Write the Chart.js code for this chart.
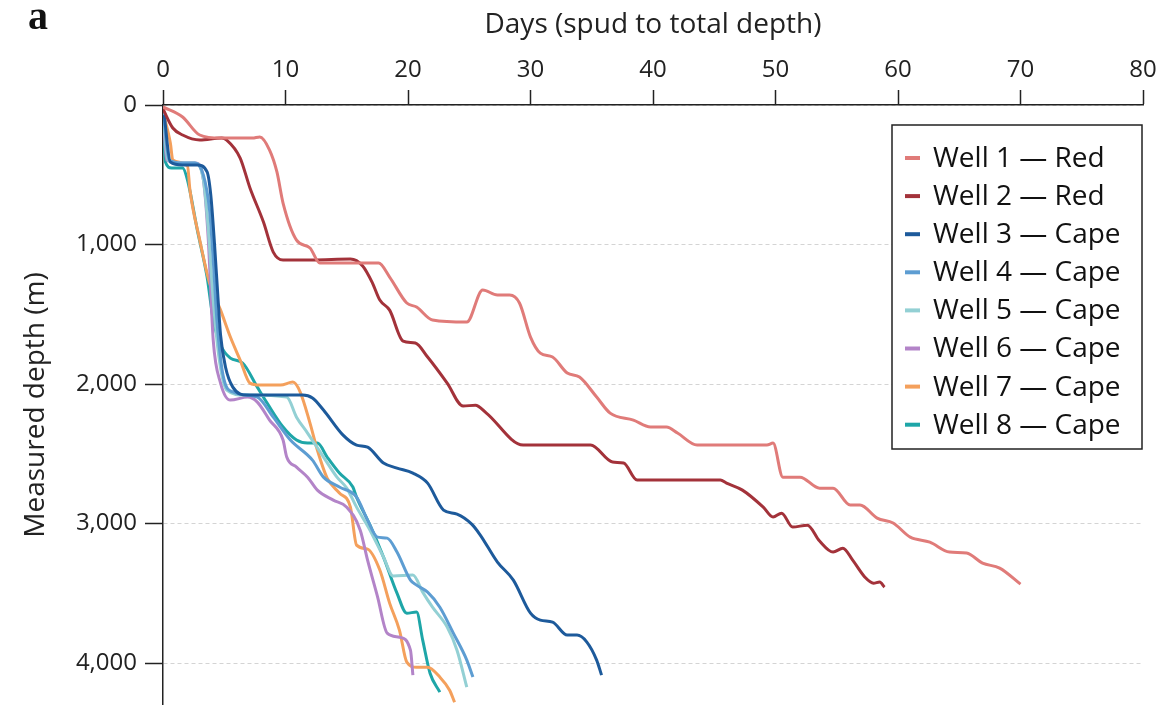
<!DOCTYPE html>
<html>
<head>
<meta charset="utf-8">
<title>Measured depth vs days</title>
<script src="https://cdn.jsdelivr.net/npm/chart.js@4.4.1/dist/chart.umd.min.js"></script>
<style>
  html, body { margin: 0; padding: 0; background: #fff; }
  #wrap { position: relative; width: 1165px; height: 705px; }
</style>
</head>
<body>
<div id="wrap"><canvas id="depthChart"></canvas></div>
<script>
// === Data (days since spud, measured depth in m) ===
const dayTicks = [0, 10, 20, 30, 40, 50, 60, 70, 80];
const depthTicks = [0, 1000, 2000, 3000, 4000];

const wellNames = ['Well 1 \u2014 Red', 'Well 2 \u2014 Red', 'Well 3 \u2014 Cape', 'Well 4 \u2014 Cape',
  'Well 5 \u2014 Cape', 'Well 6 \u2014 Cape', 'Well 7 \u2014 Cape', 'Well 8 \u2014 Cape'];
const wellColors = ['#e07b79', '#a3323a', '#1d5a9b', '#5d9dd2', '#93d0d4', '#b384c8', '#f4a05c', '#1ea6a8'];

const well1Days = [0, 1.6, 3.0, 4.7, 7.3, 7.9, 8.7, 9.3, 9.8, 10.9, 12.0, 12.8, 15.3, 17.6, 18.5, 19.9, 20.7, 22.0, 24.8, 26.1, 27.3, 28.3, 29.1, 30.0, 30.8, 31.8, 33.0, 34.0, 35.4, 36.5, 38.4, 39.8, 41.1, 42.0, 43.6, 49.3, 49.8, 50.6, 52.0, 53.6, 54.7, 56.1, 56.9, 58.3, 59.6, 61.0, 62.6, 64.2, 65.6, 66.9, 68.3, 70.0];
const well1Depth = [14, 86, 215, 237, 237, 229, 323, 480, 703, 968, 1025, 1133, 1133, 1133, 1233, 1419, 1448, 1541, 1556, 1326, 1362, 1362, 1419, 1663, 1778, 1806, 1921, 1950, 2093, 2208, 2258, 2308, 2308, 2351, 2437, 2437, 2423, 2667, 2667, 2746, 2746, 2867, 2867, 2961, 2996, 3097, 3133, 3204, 3211, 3283, 3319, 3434];

const well2Days = [0, 0.8, 1.6, 3.0, 4.8, 5.2, 6.3, 7.1, 8.2, 9.0, 9.8, 12.2, 15.3, 16.3, 17.1, 17.7, 18.5, 19.6, 20.6, 21.6, 23.2, 24.5, 25.5, 26.4, 29.4, 34.9, 36.7, 37.6, 38.7, 45.5, 46.0, 47.3, 49.0, 49.8, 50.5, 51.4, 52.6, 53.6, 54.7, 55.5, 56.3, 57.3, 58.0, 58.5, 58.9];
const well2Depth = [29, 165, 215, 251, 237, 251, 380, 595, 839, 1054, 1111, 1111, 1104, 1154, 1276, 1398, 1470, 1692, 1706, 1806, 1993, 2158, 2151, 2208, 2437, 2437, 2559, 2566, 2688, 2688, 2710, 2760, 2882, 2953, 2925, 3025, 3011, 3125, 3204, 3176, 3262, 3384, 3427, 3419, 3455];

const well3Days = [0.1, 0.6, 1.6, 2.8, 3.6, 3.9, 4.2, 4.5, 4.7, 5.1, 5.7, 6.9, 11.4, 12.2, 13.1, 14.7, 15.8, 16.7, 18.0, 19.1, 20.4, 21.6, 22.9, 24.0, 25.2, 25.9, 27.3, 28.6, 30.0, 30.8, 31.8, 33.0, 33.8, 34.6, 35.4, 35.8];
const well3Depth = [72, 409, 430, 430, 480, 645, 989, 1398, 1649, 1878, 2022, 2079, 2079, 2100, 2186, 2366, 2437, 2452, 2566, 2602, 2638, 2710, 2903, 2932, 3004, 3082, 3276, 3405, 3642, 3692, 3706, 3799, 3799, 3849, 3978, 4086];

const well4Days = [0, 0.5, 1.6, 2.6, 3.3, 3.8, 4.1, 4.4, 4.9, 5.7, 7.7, 9.0, 10.4, 12.2, 13.1, 14.4, 15.8, 16.7, 17.5, 18.3, 19.1, 20.2, 20.7, 21.6, 22.6, 23.7, 24.8, 25.3];
const well4Depth = [36, 394, 416, 416, 502, 753, 1111, 1541, 1935, 2057, 2093, 2237, 2401, 2545, 2667, 2738, 2810, 2975, 3097, 3104, 3204, 3405, 3441, 3491, 3599, 3785, 3978, 4100];

const well5Days = [0, 0.4, 1.6, 2.6, 3.3, 3.7, 4.1, 4.6, 5.2, 6.7, 10.1, 10.9, 11.8, 13.1, 14.2, 15.0, 15.8, 16.9, 18.0, 18.8, 20.4, 21.2, 22.0, 23.2, 24.0, 24.8];
const well5Depth = [50, 394, 416, 416, 538, 896, 1398, 1828, 2043, 2079, 2093, 2237, 2351, 2523, 2667, 2746, 2882, 3047, 3240, 3376, 3369, 3491, 3599, 3742, 3907, 4172];

const well6Days = [0, 0.3, 1.6, 2.7, 3.3, 3.7, 4.1, 4.7, 5.5, 6.9, 7.7, 8.7, 9.8, 10.1, 10.9, 11.8, 12.6, 13.9, 15.0, 16.1, 16.7, 17.5, 18.3, 19.3, 20.2, 20.4];
const well6Depth = [50, 394, 416, 416, 538, 968, 1685, 1993, 2115, 2093, 2129, 2258, 2401, 2523, 2595, 2667, 2760, 2832, 2882, 3047, 3262, 3520, 3785, 3814, 3907, 4086];

const well7Days = [0, 0.6, 0.8, 2.0, 2.2, 3.0, 3.8, 4.7, 5.5, 6.3, 7.1, 7.9, 9.6, 10.6, 11.2, 12.0, 12.6, 13.4, 14.4, 15.3, 15.8, 16.7, 17.7, 18.5, 19.3, 19.9, 20.7, 21.6, 22.6, 23.4, 23.8];
const well7Depth = [50, 272, 394, 437, 609, 968, 1276, 1470, 1663, 1828, 1993, 2007, 2007, 1986, 2057, 2280, 2473, 2674, 2781, 2882, 3154, 3183, 3333, 3570, 3763, 3993, 4029, 4029, 4100, 4194, 4280];

const well8Days = [0, 0.2, 0.7, 1.6, 2.0, 2.8, 3.6, 4.1, 4.7, 5.5, 6.5, 7.7, 8.5, 9.8, 10.9, 11.8, 12.6, 13.4, 14.4, 15.5, 15.8, 16.9, 18.0, 19.1, 19.9, 20.7, 21.2, 21.8, 22.6];
const well8Depth = [57, 409, 452, 452, 538, 896, 1233, 1541, 1720, 1814, 1849, 2022, 2136, 2308, 2401, 2423, 2423, 2523, 2638, 2738, 2810, 3011, 3240, 3498, 3642, 3634, 3835, 4072, 4208];

const wellDays = [well1Days, well2Days, well3Days, well4Days, well5Days, well6Days, well7Days, well8Days];
const wellDepths = [well1Depth, well2Depth, well3Depth, well4Depth, well5Depth, well6Depth, well7Depth, well8Depth];

document.addEventListener('DOMContentLoaded', function () {

  const FONT = '"Open Sans", "Liberation Sans", sans-serif';

  // === Panel letter and boxed legend ===
  const panelLegend = {
    id: 'panelLegend',
    afterDraw(chart) {
      const ctx = chart.ctx;
      const area = chart.chartArea;
      ctx.save();

      ctx.fillStyle = '#111';
      ctx.font = 'bold 40px "Liberation Serif", serif';
      ctx.textBaseline = 'alphabetic';
      ctx.textAlign = 'left';
      ctx.fillText('a', 28, 29);

      const bw = 250, bh = 324;
      const bx = area.right - bw - 1, by = area.top + 20;
      ctx.fillStyle = '#fff';
      ctx.fillRect(bx, by, bw, bh);
      ctx.strokeStyle = '#222';
      ctx.lineWidth = 1.5;
      ctx.strokeRect(bx, by, bw, bh);

      ctx.font = '28px ' + FONT;
      ctx.textBaseline = 'middle';
      chart.data.datasets.forEach((ds, i) => {
        const y = by + 33 + i * 38.1;
        ctx.strokeStyle = ds.borderColor;
        ctx.lineWidth = 4;
        ctx.beginPath();
        ctx.moveTo(bx + 13, y);
        ctx.lineTo(bx + 28, y);
        ctx.stroke();
        ctx.fillStyle = '#111';
        ctx.fillText(ds.label, bx + 41, y + 1);
      });
      ctx.restore();
    }
  };

  const datasets = wellNames.map((name, i) => ({
    label: name,
    data: wellDays[i].map((d, j) => ({ x: d, y: wellDepths[i][j] })),
    borderColor: wellColors[i],
    backgroundColor: wellColors[i],
    borderWidth: 3,
    pointRadius: 0,
    cubicInterpolationMode: 'monotone',
    fill: false
  }));

  const ctx = document.getElementById('depthChart');
  new Chart(ctx, {
    type: 'line',
    data: { datasets: datasets },
    options: {
      responsive: true,
      maintainAspectRatio: false,
      animation: false,
      layout: { padding: { left: 10, right: 22, top: 0, bottom: 0 } },
      plugins: {
        legend: { display: false },
        tooltip: { enabled: false }
      },
      scales: {
        x: {
          type: 'linear',
          position: 'top',
          min: 0,
          max: 80,
          afterBuildTicks: (scale) => { scale.ticks = dayTicks.map(v => ({ value: v })); },
          afterFit: (scale) => { scale.height = 105; },
          grid: { drawOnChartArea: false, drawTicks: true, tickLength: 15, tickColor: '#222', tickWidth: 1.5 },
          border: { display: true, color: '#222', width: 1.5 },
          ticks: { color: '#222', padding: 5, font: { family: FONT, size: 24 } },
          title: {
            display: true,
            text: 'Days (spud to total depth)',
            color: '#222',
            padding: { top: 8, bottom: 0 },
            font: { family: FONT, size: 28 }
          }
        },
        y: {
          type: 'linear',
          reverse: true,
          min: 0,
          max: 4300,
          afterBuildTicks: (scale) => { scale.ticks = depthTicks.map(v => ({ value: v })); },
          afterFit: (scale) => { scale.width = 153; scale.paddingTop = 0; scale.paddingBottom = 0; },
          grid: { color: '#d4d4d4', lineWidth: 1, drawTicks: true, tickLength: 18, tickColor: '#222', tickWidth: 1.5 },
          border: { display: true, color: '#222', width: 1.5, dash: [4, 3] },
          ticks: {
            color: '#222',
            padding: 8,
            font: { family: FONT, size: 24 },
            callback: (v) => v.toLocaleString('en-US')
          },
          title: {
            display: true,
            text: 'Measured depth (m)',
            color: '#222',
            padding: { top: 9, bottom: 0 },
            font: { family: FONT, size: 28 }
          }
        }
      }
    },
    plugins: [panelLegend]
  });

});
</script>
</body>
</html>
